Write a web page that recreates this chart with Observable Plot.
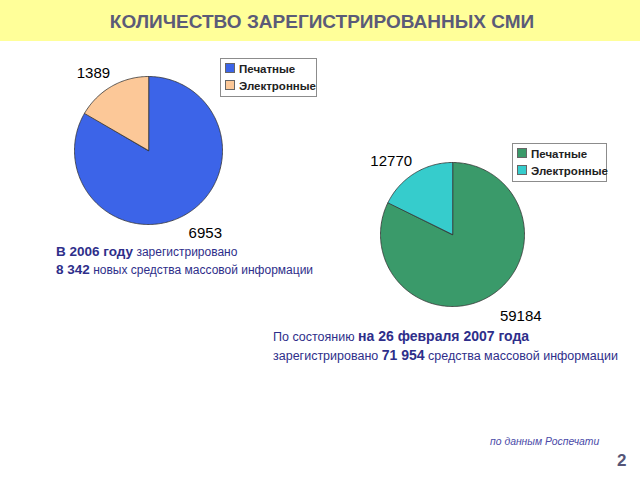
<!DOCTYPE html>
<html><head><meta charset="utf-8">
<script src="https://cdn.jsdelivr.net/npm/d3@7"></script>
<script src="https://cdn.jsdelivr.net/npm/@observablehq/plot@0.6"></script>
<style>
body{margin:0;background:#fff;font-family:"Liberation Sans",Arial,sans-serif;}
#page{position:relative;width:640px;height:480px;overflow:hidden;}
.abs{position:absolute;}
#band{left:0;top:0;width:640px;height:41px;background:#ffff99;}
#title{left:0;top:11px;width:644px;text-align:center;font-weight:bold;font-size:19px;color:#5b5b78;}
.legend{border:1px solid #8c8c8c;background:#fff;padding:2px 3px 1px 4px;font-size:11.5px;font-weight:bold;color:#222;}
.legend div{height:17px;line-height:17px;white-space:nowrap;}
.sw{display:inline-block;width:8px;height:8px;border:1px solid #666;margin-right:4px;vertical-align:0px;}
.note{color:#2e2e8a;font-size:12px;line-height:18px;white-space:nowrap;}
.note b{font-size:13.5px;}
.note2{font-size:12.5px;}
.note2 b{font-size:14px;}
#src{left:490px;top:436px;font-style:italic;font-size:10.4px;color:#4a4aa8;}
#num{left:617px;top:451px;font-weight:bold;font-size:17px;color:#555577;}
</style></head>
<body><div id="page">
<div id="band" class="abs"></div>
<div id="title" class="abs"></div>
<div id="pie1" class="abs" style="left:18px;top:40px"></div>
<div id="pie2" class="abs" style="left:322px;top:124px"></div>
<div id="leg1" class="abs legend" style="left:220px;top:58px;width:88px"></div>
<div id="leg2" class="abs legend" style="left:512px;top:143px;width:86px"></div>
<div class="abs note" style="left:56px;top:243px"><b>В 2006 году</b> зарегистрировано<br><b>8 342</b> новых средства массовой информации</div>
<div class="abs note note2" style="left:273px;top:327px">По состоянию <b>на 26 февраля 2007 года</b><br>зарегистрировано <b>71 954</b> средства массовой информации</div>
<div id="src" class="abs">по данным Роспечати</div>
<div id="num" class="abs">2</div>
</div>
<script>
const titleText = "КОЛИЧЕСТВО ЗАРЕГИСТРИРОВАННЫХ СМИ";
const categories = ["Печатные", "Электронные"];
const values2006 = [6953, 1389];
const values2007 = [59184, 12770];
const colors2006 = ["#3c64e8", "#fcc898"];
const colors2007 = ["#3a9a6a", "#36cccc"];

document.getElementById("title").textContent = titleText;

function legend(id, colors) {
  const el = document.getElementById(id);
  categories.forEach((c, i) => {
    const d = document.createElement("div");
    const s = document.createElement("span");
    s.className = "sw"; s.style.background = colors[i];
    d.appendChild(s); d.appendChild(document.createTextNode(c));
    el.appendChild(d);
  });
}
legend("leg1", colors2006);
legend("leg2", colors2007);

function pie(id, values, colors, r, w, h, labelR, dxs, dys) {
  const arcs = d3.pie().sort(null).value(d => d)(values);
  const pts = [];
  arcs.forEach((a, i) => {
    const cat = categories[i];
    pts.push({cat, x: 0, y: 0});
    const n = Math.max(2, Math.ceil((a.endAngle - a.startAngle) / (Math.PI / 180)));
    for (let k = 0; k <= n; k++) {
      const t = a.startAngle + (a.endAngle - a.startAngle) * k / n;
      pts.push({cat, x: Math.sin(t), y: Math.cos(t)});
    }
  });
  const labels = arcs.map((a, i) => {
    const m = (a.startAngle + a.endAngle) / 2;
    return {cat: categories[i], v: values[i], x: labelR[i] * Math.sin(m), y: labelR[i] * Math.cos(m)};
  });
  const hx = w / 2 / r, hy = h / 2 / r;
  const textOpts = {x: "x", y: "y", text: d => String(d.v), fontSize: 15, fill: "#000", fontFamily: "Liberation Sans, Arial, sans-serif"};
  const chart = Plot.plot({
    width: w, height: h, margin: 0,
    x: {domain: [-hx, hx], axis: null},
    y: {domain: [-hy, hy], axis: null},
    color: {domain: categories, range: colors},
    style: {background: "transparent", overflow: "visible"},
    marks: [
      Plot.line(pts, {x: "x", y: "y", z: "cat", fill: "cat", stroke: "#333", strokeWidth: 0.8, curve: "linear-closed"}),
      Plot.text([labels[0]], {...textOpts, dx: dxs[0], dy: dys[0]}),
      Plot.text([labels[1]], {...textOpts, dx: dxs[1], dy: dys[1]})
    ]
  });
  document.getElementById(id).appendChild(chart);
}
pie("pie1", values2006, colors2006, 74, 260, 220, [1.32, 1.3], [8, -7], [-2, 6]);
pie("pie2", values2007, colors2007, 72, 260, 220, [1.45, 1.32], [13, -11], [-7, 7]);
</script>
</body></html>
